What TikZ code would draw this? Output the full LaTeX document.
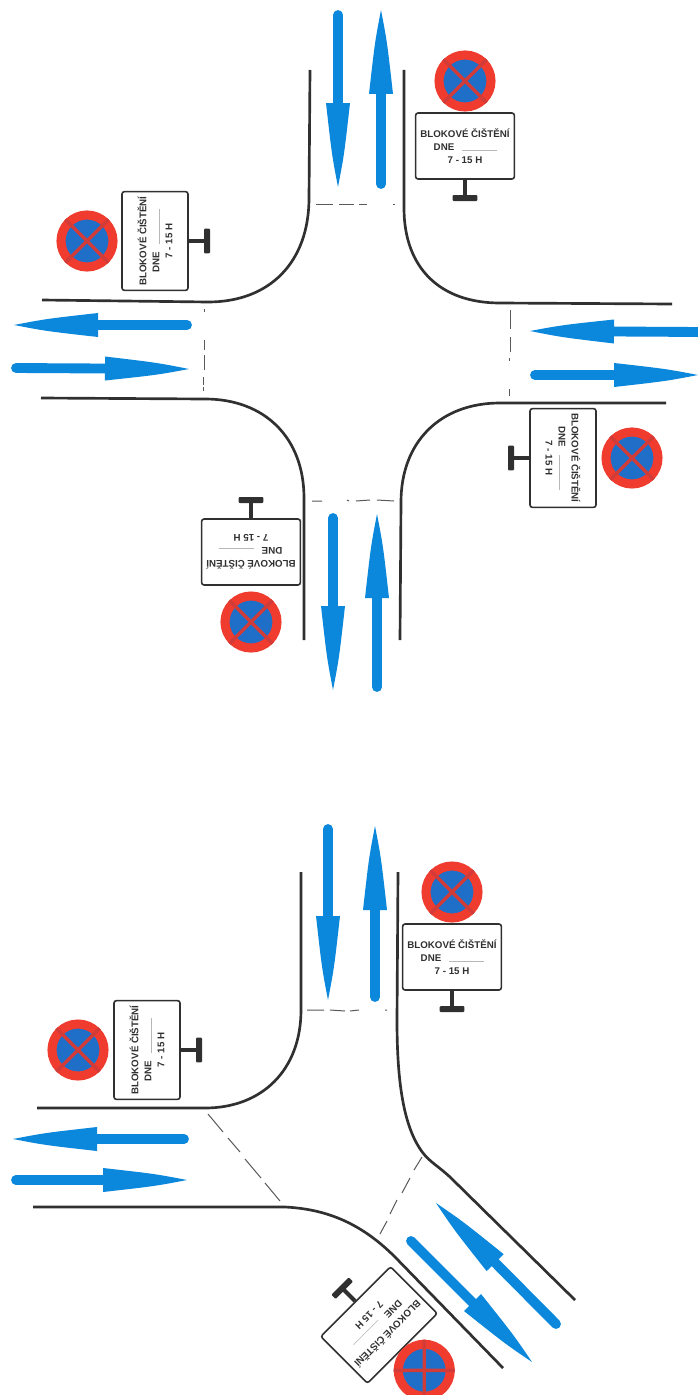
\documentclass[tikz,border=0pt]{standalone}
\usepackage{fontspec}
\setmainfont{Liberation Sans}
\usetikzlibrary{calc}
\definecolor{roadblue}{HTML}{0B88DC}
\definecolor{signred}{HTML}{F03B2F}
\definecolor{signblue}{HTML}{1F6FC9}
\definecolor{crossred}{HTML}{D23C38}
\definecolor{ink}{HTML}{303030}
\tikzset{
  curb/.style={draw=ink,line width=2pt,line cap=butt,line join=round},
  stopline/.style={draw=ink!80,line width=0.75pt},
  flowshaft/.style={draw=roadblue,line width=7.4pt,line cap=round},
  flowhead/.style={fill=roadblue},
  signbox/.style={draw=ink,fill=white,line width=1.2pt,rounded corners=1.8pt,minimum width=74pt,minimum height=49.5pt,inner sep=0pt,transform shape},
  signtext/.style={font=\bfseries\fontsize{7.3}{8}\selectfont,text=ink,inner sep=0pt,transform shape},
  signbar/.style={fill=ink,rounded corners=0.8pt,minimum width=18.5pt,minimum height=4.5pt,inner sep=0pt,transform shape},
  stem/.style={draw=ink,line width=3pt},
  noparking/.style={circle,draw=signred,fill=signblue,line width=6.8pt,minimum size=39pt,inner sep=0pt,transform shape},
  xbar/.style={draw=crossred,line width=2.6pt},
  blank/.style={draw=ink!35,line width=0.4pt}
}
\newcommand{\flowarrow}[5]{%
  \coordinate (#1-a) at (#2,#3);\coordinate (#1-b) at (#4,#5);
  \coordinate (#1-h) at ($(#1-b)!63pt!(#1-a)$);
  \coordinate (#1-l) at ($(#1-h)!9pt!90:(#1-b)$);
  \coordinate (#1-r) at ($(#1-h)!9pt!-90:(#1-b)$);
  \coordinate (#1-m) at ($(#1-b)!24pt!(#1-a)$);
  \coordinate (#1-cl) at ($(#1-m)!4.6pt!90:(#1-b)$);
  \coordinate (#1-cr) at ($(#1-m)!4.6pt!-90:(#1-b)$);
  \draw[flowshaft] (#1-a) -- (#1-h);
  \fill[flowhead] (#1-b) .. controls (#1-cl) and (#1-cl) .. (#1-l) -- (#1-r) .. controls (#1-cr) and (#1-cr) .. (#1-b) -- cycle;}
\newcommand{\roadsign}[5]{%
  \begin{scope}[shift={(#2,#3)},rotate=#4]
    \node[signbox] (#1-box) at (0,0) {};
    \node[signtext] (#1-l1) at (0,-13) {BLOKOVÉ ČIŠTĚNÍ};
    \node[signtext] (#1-l2) at (-21,1) {DNE};
    \node[signtext] (#1-l3) at (0,14) {7 - 15 H};
    \coordinate (#1-ba) at (-3,4);\coordinate (#1-bb) at (32,4);
    \draw[blank] (#1-ba) -- (#1-bb);
    \node[signbar] (#1-bar) at (0,52) {};
    \draw[stem] (#1-box.south) -- (#1-bar.center);
    \node[noparking] (#1-disc) at (0,-#5) {};
    \draw[xbar] (#1-disc.north west) -- (#1-disc.south east);
    \draw[xbar] (#1-disc.north east) -- (#1-disc.south west);
  \end{scope}}
\begin{document}
\begin{tikzpicture}[x=0.75pt,y=-0.75pt]
\useasboundingbox[fill=white] (0,0) rectangle (698,1395);
% upper crossing: kerbs
\draw[curb] (310,70) -- (309,198) .. controls (309,262) and (270,302) .. (208,302) -- (42,300);
\draw[curb] (404,70) -- (404,208) .. controls (404,268) and (440,303) .. (500,303) -- (672,304);
\draw[curb] (41,398) -- (205,399) .. controls (265,399) and (304,438) .. (304,498) -- (304,640);
\draw[curb] (666,403) -- (500,403) .. controls (440,403) and (401,442) .. (401,502) -- (400,640);
% upper crossing: stop lines
\draw[stopline] (316,204) -- (333,204) (339,204) -- (354,204) (359,204) -- (367,204) (393,204) -- (395,204);
\draw[stopline] (204,309) -- (204,312) (204,340) -- (204,350) (204,355) -- (204,370) (203,377) -- (203,385) (203,387) -- (203,391);
\draw[stopline] (510,310) -- (510,329) (510,337) -- (510,352) (509,358) -- (509,361) (509,389) -- (509,396);
\draw[stopline] (312,501) -- (322,501) (347,500) -- (349,501) (356,501) -- (370,500) (377,500) -- (394,501);
% upper crossing: flows
\flowarrow{a1}{338}{15}{338}{187}
\flowarrow{a2}{381}{184}{381}{10}
\flowarrow{a3}{187}{325}{14}{325}
\flowarrow{a4}{16}{368}{189}{369}
\flowarrow{a5}{700}{332}{530}{331}
\flowarrow{a6}{535}{375}{698}{375}
\flowarrow{a7}{333}{518}{333}{690}
\flowarrow{a8}{377}{687}{377}{514}
% upper crossing: signs
\roadsign{s1}{465}{146}{0}{65}
\roadsign{s2}{155}{241}{90}{68}
\roadsign{s3}{563}{458}{-90}{69}
\roadsign{s4}{251}{552}{180}{70}
% lower crossing: kerbs
\draw[curb] (301,872) -- (301,1010) .. controls (301,1070) and (262,1108) .. (205,1108) -- (37,1108);
\draw[curb] (398,872) -- (397,1020) .. controls (397,1080) and (403,1127) .. (423,1153) .. controls (430,1162) and (438,1166) .. (450,1177) -- (575,1300);
\draw[curb] (33,1207) -- (285,1207) .. controls (325,1209) and (360,1222) .. (395,1257) -- (503,1368);
% lower crossing: stop lines
\draw[stopline] (307,1010) -- (324,1010) (330,1010) -- (345,1011) (350,1011) -- (359,1010) (385,1010) -- (387,1010);
\draw[stopline] (208,1114) -- (223,1132) (228,1138) -- (240,1152) (245,1159) -- (261,1178) (265,1183) -- (280,1201);
\draw[stopline] (422,1157) -- (414,1170) (410,1178) -- (402,1193) (397,1200) -- (390,1214) (387,1221) -- (380,1234);
% lower crossing: flows
\flowarrow{b1}{328}{829}{328}{1000}
\flowarrow{b2}{375}{997}{375}{826}
\flowarrow{b3}{184}{1139}{13}{1139}
\flowarrow{b4}{16}{1180}{187}{1180}
\flowarrow{b5}{556}{1324}{436}{1203}
\flowarrow{b6}{411}{1241}{532}{1362}
% lower crossing: signs
\roadsign{s5}{147}{1050}{90}{69}
\roadsign{s6}{452}{957}{0}{65}
\roadsign{s7}{379}{1325}{-135}{64}
\end{tikzpicture}
\end{document}
